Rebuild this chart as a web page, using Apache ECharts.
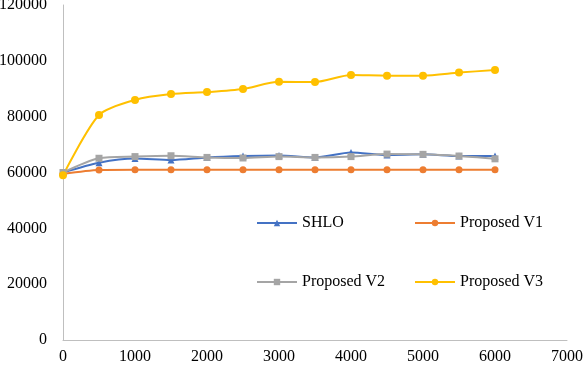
<!DOCTYPE html>
<html>
<head>
<meta charset="utf-8">
<script src="https://cdn.jsdelivr.net/npm/echarts@6/dist/echarts.min.js"></script>
<style>
  html, body { margin: 0; padding: 0; background: #fff; }
  #chart { width: 584px; height: 366px; }
</style>
</head>
<body>
<div id="chart"></div>
<script>
  // x positions (iterations) and the four series
  const xValues = [0, 500, 1000, 1500, 2000, 2500, 3000, 3500, 4000, 4500, 5000, 5500, 6000];
  const shlo = [60000, 63500, 65000, 64500, 65400, 65900, 66100, 65400, 67200, 66300, 66500, 65900, 65900];
  const proposedV1 = [59500, 60900, 61000, 61000, 61000, 61000, 61000, 61000, 61000, 61000, 61000, 61000, 61000];
  const proposedV2 = [60000, 65100, 65700, 66000, 65400, 65200, 65700, 65400, 65700, 66600, 66500, 65900, 64900];
  const proposedV3 = [59000, 80600, 86000, 88100, 88800, 89900, 92500, 92400, 94900, 94700, 94700, 95800, 96700];
  const seriesNames = ['SHLO', 'Proposed V1', 'Proposed V2', 'Proposed V3'];

  const font = 'Liberation Serif, Times New Roman, serif';
  let myChart = echarts.init(document.getElementById('chart'));

  function pairs (ys) {
    let out = [];
    for (let i = 0; i < xValues.length; i++) {
      out.push([xValues[i], ys[i]]);
    }
    return out;
  }

  function makeSeries (name, ys, color, symbol, size) {
    return {
      name: name,
      type: 'line',
      smooth: 0.25,
      symbol: symbol,
      symbolSize: size,
      lineStyle: { width: 2, color: color },
      itemStyle: { color: color },
      data: pairs(ys)
    };
  }

  function makeLegend (name, left, top) {
    return {
      data: [name],
      left: left,
      top: top,
      itemWidth: 40,
      itemHeight: 8,
      itemGap: 5,
      textStyle: { fontFamily: font, fontSize: 16, color: '#000' }
    };
  }

  function plain (v) {
    return String(v);
  }

  myChart.setOption({
    animation: false,
    textStyle: { fontFamily: font },
    legend: [
      makeLegend(seriesNames[0], 251, 210),
      makeLegend(seriesNames[1], 409, 210),
      makeLegend(seriesNames[2], 251, 269),
      makeLegend(seriesNames[3], 409, 269)
    ],
    grid: {
      left: 63,
      right: 17,
      top: 5,
      bottom: 26,
      containLabel: false,
      outerBoundsMode: 'none'
    },
    xAxis: {
      type: 'value',
      min: 0,
      max: 7000,
      interval: 1000,
      axisLine: { show: true, lineStyle: { color: '#bfbfbf', width: 1 } },
      axisTick: { show: false },
      splitLine: { show: false },
      axisLabel: { color: '#000', fontSize: 16, fontFamily: font, margin: 9, formatter: plain }
    },
    yAxis: {
      type: 'value',
      min: 0,
      max: 120000,
      interval: 20000,
      axisLine: { show: true, lineStyle: { color: '#bfbfbf', width: 1 } },
      axisTick: { show: false },
      splitLine: { show: false },
      axisLabel: { color: '#000', fontSize: 16, fontFamily: font, margin: 16, formatter: plain }
    },
    series: [
      makeSeries(seriesNames[0], shlo, '#4472c4', 'triangle', 7),
      makeSeries(seriesNames[1], proposedV1, '#ed7d31', 'circle', 7),
      makeSeries(seriesNames[2], proposedV2, '#a5a5a5', 'rect', 7),
      makeSeries(seriesNames[3], proposedV3, '#ffc000', 'circle', 8)
    ]
  });
</script>
</body>
</html>
